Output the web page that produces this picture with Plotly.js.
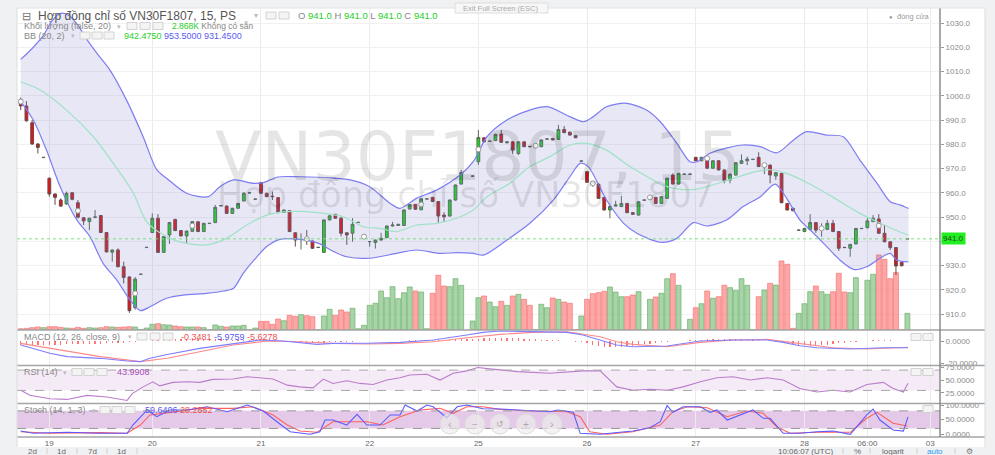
<!DOCTYPE html>
<html><head><meta charset="utf-8">
<script src="https://cdn.plot.ly/plotly-3.0.1.min.js"></script>
<style>html,body{margin:0;padding:0;background:#f0f1f3}#c{width:995px;height:455px}</style>
</head><body><div id="c"></div><script>
// ---------- DATA (15-minute candles, index = bar number) ----------
const open = [998.5,995.8,988.9,980.1,974.5,966,959.5,957,955.4,960,
955.9,949.7,948.1,949.9,950.6,943.6,935.5,936.4,929.5,925.3,
912.6,926.4,937.4,943.6,949.5,935.4,942.6,949,944.4,942.2,
944.1,948,944,947.3,947.7,954.6,954.5,951.5,953.6,956.6,
959.9,957.3,964.2,959.8,958.6,958,951.9,952.6,943.5,940.7,
941,940.1,937.4,935.4,948.8,951.1,949.5,943.5,943.3,947.7,
941.8,939.8,939.5,940.5,941.5,946.3,946.5,946.5,953.3,955.2,
953,957.4,958.1,956.4,950.8,950.4,957,963.6,null,966.8,
972.8,982.7,981.2,981.5,984.2,980.6,981,976.2,981,979.2,
979.3,979,982.1,982.4,982,986.1,985,983.5,973,968.7,
964,963.5,958.1,952.9,954.5,954.3,955.6,951.8,950.8,956.9,
958,958.1,955.6,957.7,967.3,963.6,967.6,967.6,974.6,973.2,
974.6,970.1,973.2,969.4,965.3,967.3,972.1,973.2,973.7,974.6,
971.3,971.4,966.9,968,955.6,953.6,944.5,944,944.9,947.7,
945.2,944.9,947.4,944,937.5,937.1,938.9,945.2,945.6,948.1,
949.2,943.3,939.8,937.4,931.3,941];
const high = [999.3,997.8,990,980.5,974.8,966.3,959.7,957.7,960.5,960.3,
957,949.9,949.7,952.9,950.8,943.8,936.6,937.1,931.6,925.5,
925.2,926.5,937.6,951.5,951.2,942.1,948,949.3,944.6,944.4,
948.3,948.3,947.6,947.5,955,954.8,954.8,953.8,955.8,960.3,
960.1,957.5,964.5,960,960.5,958.2,953.1,952.8,943.7,943.3,
944.6,940.3,937.6,949,950.7,951.3,950,943.7,949.5,947.9,
942,940,940.7,943.5,946.5,948,947.2,953.1,955.4,955.4,
957.8,957.6,958.3,956.6,952,957.2,963.4,969.4,null,967,
985.9,982.9,981.4,984.3,985.9,981.2,981.2,981.2,981.2,979.3,
979.5,982,982.3,982.6,988,987.5,985.2,983.7,973.2,968.9,
964.2,963.7,958.3,954.5,956.7,958.7,955.8,952,956.5,957.1,
958.2,958.3,958.6,966.2,968,968.2,967.8,967.8,974.8,974.8,
974.8,973.4,973.4,969.6,967.9,972.6,975.8,974.9,973.9,976.7,
971.6,971.6,968.5,968.2,955.8,953.8,944.7,945.5,951.2,947.9,
947.4,948.8,948.8,944.2,937.6,938.9,945.5,945.4,949.5,950.8,
951.2,946.7,940,937.6,931.5,941];
const low = [994.1,989.3,979.8,976.2,974.4,958.4,955,954.2,955,956.9,
949.5,946.7,944.6,949.5,943.4,935.4,931.6,929.3,922.6,910.5,
911.8,926.3,937.3,943.4,935.2,935.2,938.9,944.2,942,938.9,
943.9,943.8,943.8,947.2,947.5,954.5,951.3,951.3,953.4,956.4,
959.8,957.2,959.6,958.2,957,951.5,951.7,943.8,937.8,936.6,
938.5,936.9,937.3,935.2,948.6,949.3,942,938.5,939.8,947.6,
941.6,937.8,937,940.3,941.3,946.1,946.3,946.3,953.1,952.9,
952.8,957.3,956.2,947.7,948,950.2,956.8,963.4,null,966.7,
971.5,980.8,981.1,981.3,980.6,980.4,975.9,975.5,978.8,978.8,
979.2,978.8,982,981.6,981.8,984.6,983.6,982.5,972.9,964.1,
962.5,957.5,952.7,949.5,954.3,954.1,951.6,950.9,950.6,956.8,
957.8,955.4,955.4,957.5,963.4,963.4,967.5,967.5,973,973,
969.9,969.9,969.2,963.9,963.9,967.1,971.9,971.4,973.6,970.6,
967.7,963.9,965.3,955.7,952.7,952.4,944.4,943.8,944.7,943.5,
941.9,944.7,943.8,936,937.3,933.6,938.7,945.1,945.3,947.9,
943.1,939.6,936.4,926.1,929.7,941];
const close = [995.8,989.7,980.1,978.7,974.6,959.5,958.1,954.5,959.8,957.3,
949.9,948.4,949.5,950,943.6,935.6,936.4,929.5,925.1,911.4,
924.4,926.4,937.5,949.5,935.4,941.9,947.7,944.4,942.2,944.2,
948.1,944,947.4,947.4,954,954.7,951.5,953.6,955.6,959.8,
960,957.4,959.8,958.4,958.4,951.9,952.9,944,940.5,940.8,
940.9,937.1,937.5,948.8,950.5,949.5,943.3,942.6,947,947.8,
941.9,939.9,940.5,941.2,946.3,946.7,947,952.9,955.2,953.2,
957.5,957.5,956.4,950.4,950.1,957,963.2,968.3,null,966.9,
982.8,981,981.3,984.1,980.8,981,977.6,981,979,979,
979.4,981.8,982.2,981.8,986.1,984.8,983.8,982.7,973.1,964.3,
963.8,957.7,952.9,954.3,955,955.6,951.8,951.1,956.3,957,
958.1,955.6,958.4,966,963.6,968,967.7,967.7,973.2,974.6,
970.1,973.2,969.4,965,967.7,972.4,973.2,973.9,973.8,970.8,
971.4,967.3,968.3,955.9,952.9,952.6,944.6,945.3,947.7,944.6,
945.3,947.4,944,937.1,937.4,938.7,945.3,945.3,948.4,949.5,
943.3,939.8,937.4,929.8,929.9,941];
// volume in thousands
const volume = [0.22,0.29,0.40,0.52,0.40,0.57,0.57,0.46,0.34,0.29,
0.46,0.29,0.40,0.34,0.40,0.57,0.52,0.46,0.52,0.57,
0.52,0.09,0.34,0.98,1.08,0.91,0.86,0.69,0.57,0.52,
0.52,0.52,0.40,0.05,0.86,0.64,0.52,0.69,0.69,0.81,
0.05,0.34,1.49,1.49,0.98,1.89,1.60,2.53,2.35,2.63,
2.46,2.29,0.05,2.41,3.56,2.53,3.44,3.09,3.73,0.22,
0.81,4.24,4.59,6.70,5.55,7.44,5.38,6.41,7.39,6.70,
6.53,0.22,6.31,9.40,7.56,7.44,8.81,7.68,null,1.55,
5.55,5.84,4.81,4.00,4.93,4.24,5.84,6.13,5.27,4.24,
0.05,4.42,3.83,5.50,5.27,4.81,4.59,0.05,2.41,5.27,
6.24,6.41,6.65,7.39,6.53,5.72,5.72,6.01,6.58,0.05,
5.27,5.67,6.31,8.81,9.67,7.68,0.05,1.84,3.83,4.52,
6.70,5.45,5.72,7.68,7.27,6.82,8.81,7.68,0.05,5.72,
6.87,8.02,7.73,11.86,11.29,0.29,2.87,4.52,6.58,7.56,
6.58,6.13,6.58,9.74,6.53,6.41,8.99,0.05,8.54,9.57,
12.89,12.15,8.81,9.85,0.05,2.868];
// Bollinger Bands (20, 2) read at sample bars
const bbUpX = [0,2,4,5.5,7,8.5,10,11.5,13.5,15.6,18.5,21.4,23.8,25.5,29,32.8,34.8,37.2,40.7,42.4,45,48.8,54.1,57.6,61,64.6,66.3,69.2,72.7,76.8,79.1,81.5,85,89,92,96,98.4,100.1,102.4,105.9,109.4,111.8,114.7,117,118.2,120.5,123.5,126.3,129.3,132.2,135.1,137.4,140.9,143.8,146.7,149.7,152,153.7,155.2];
const bbUp = [1015,1019.5,1025,1031,1034,1033,1029,1023.5,1017,1010.6,998.2,983.1,969.4,966,959.8,958.4,962.5,965.3,963.9,964.2,966.5,966.6,966.2,965.3,962.5,955.6,953.6,957.7,961.1,967.3,972.8,983.1,990,994.1,995.5,991.4,989.3,991.4,995.5,996.9,994.1,989.3,980.4,972.8,972.8,976.3,978.5,979.7,979,976.5,981.8,985.2,983.8,983.1,973.5,963.9,956.3,955,953.5];
const bbMidX = [0,3.4,8,12.7,16.2,19.7,22,25.5,29,32.5,36,39.5,43,46.5,50,54,56.4,59.9,62.8,65.7,69.2,72.7,76.2,79.1,81.5,85.5,89,92.5,96,98.9,102.4,106.5,110,111.8,115,118.2,123.4,128.1,131,133.9,138,142.1,146.7,150.2,153.7,155.2];
const bbMid = [1005.8,1002.4,994.1,983.1,972.1,959.8,948.1,941.9,939.1,938.5,941.2,946.7,950.8,952.2,952.2,951.2,950.1,946,945.3,944,946.7,947.4,949.5,952.9,958.4,963.9,970.8,974.9,979.7,980.4,977.6,970.8,966,963.5,961.5,961.5,965,968.5,969.5,968,963.5,958,951.5,947.5,943.8,942.475];
const bbLowX = [0,2.2,4.5,6.9,9.8,12.1,14.4,16.8,19.1,20.9,22.6,25.5,28.4,32.5,35.5,37.2,38.9,41.3,43,45.3,48.8,52.3,54.1,57,61,65.7,69.2,73.3,76.2,79.1,80.9,85,89,93.1,96,97.8,99.2,102.4,105.4,107.7,111.8,114.7,117.6,119.9,123.4,126.3,129.3,131.9,133.9,136.2,138.6,140.9,143.2,145.6,147.9,150.2,152,153.1,155.2];
const bbLow = [997.6,990,977.6,962.5,948.8,941.9,930.9,924,915.8,911.4,913,916.5,917.8,918.5,919.5,920.6,926.8,933.6,937.8,940.8,940.8,938.9,936.5,933.6,933,935,936.4,935,935.3,935,934.3,940.5,947.4,957,966.6,972.1,970.8,957,947.4,943.3,939.6,941.2,947.7,946.3,948.8,954.3,958.4,963.6,957.7,948.8,943.3,937.8,932.3,928.4,929.5,933,935,932.3,931.45];
// markers drawn every 10 bars
const markX = [0,10,20,30,50,60,70,80,90,100,110,120,130,140,150];
const markY = [997.6,952.6,918.5,946.4,940.9,941.9,955.2,977.9,979.4,963.9,958.1,974.2,971.4,945.3,946.4];
// MACD (12, 26, close, 9)
const macdHist = [-3.5,-3.6,-3.8,-3.8,-3.6,-3.5,-3.4,-3.2,-3.0,-2.9,-2.8,-2.7,-2.6,-2.5,-2.4,-2.2,-2.0,-1.8,-1.5,
-1.0,-0.5,0.0,0.4,
0.8,1.1,1.4,1.6,1.8,1.9,2.0,2.0,1.9,1.8,1.7,1.6,1.5,1.3,1.2,1.0,0.9,0.7,0.6,0.4,0.3,0.1,0.0,
-0.3,-0.6,-0.9,-1.2,-1.4,-1.5,-1.6,-1.5,-1.3,
-1.0,-0.8,-0.6,-0.5,-0.3,-0.2,-0.1,0.0,0.1,0.2,0.2,0.3,0.4,0.5,0.6,0.7,
0.8,0.9,1.0,1.1,1.2,1.4,1.6,1.8,1.9,2.2,2.5,2.7,2.8,2.8,2.7,2.6,
2.3,2.0,1.7,1.4,1.1,0.9,0.7,0.5,0.3,
0.0,-0.5,-1.2,
-2.2,-3.2,-4.2,-5.0,-5.5,-5.6,-5.3,-4.8,-4.2,-3.5,
-2.9,-2.3,-1.8,-1.3,-0.8,-0.4,0.0,0.3,
0.7,1.0,1.3,1.5,1.7,1.8,1.8,1.7,1.6,1.4,1.2,
0.9,0.6,0.3,0.0,-0.5,-1.2,
-2.0,-2.8,-3.4,-3.8,-4.0,-3.9,-3.6,-3.2,-2.7,-2.2,
-1.7,-1.2,-0.7,-0.2,0.3,
0.7,1.0,1.0,0.7,0.3,0.0,-0.35];
const macdX = [0,2.2,5.1,8.1,13.9,18.6,20.9,22.6,25.6,31.3,37.1,41.8,45.9,51.8,54.6,60.5,66.3,72.1,78,80.8,83.8,89.6,95.5,98.3,101.3,104.2,107,113,118.8,124.5,130.5,133.3,136.2,139.2,145,150.8,155.1];
const macdLine = [-3.6,-6.6,-11,-14,-15.5,-17.9,-18.5,-15.5,-12,-6.6,-2.1,0.9,0,-3,-2.1,-2,-1.2,0.9,5.4,7.8,9,8.4,7.8,5.4,0.9,-3.6,-5.1,-4.5,0,0.9,0.9,-1.2,-4.2,-6,-7.2,-6,-5.98];
const sigX = [0,5.1,13.9,20.9,25.6,31.3,37.1,43.1,48.8,54.6,60.5,66.3,72.1,78,83.8,89.6,95.5,101.3,104.2,107,113,118.8,124.5,130.5,136.2,142,147.9,155.1];
const sigLine = [-2.1,-6.6,-14,-18.5,-15.5,-9.6,-3.6,0,-0.6,-2.1,-2.7,-2.1,-0.6,3,6,7.8,8.4,3.9,-0.6,-3,-5.1,-1.2,0.9,1.5,-2.1,-6,-7.2,-5.63];
// RSI (14)
const rsiX = [0,1.6,5.1,8.1,11.6,15.1,18.6,19.5,21.4,23.1,24.3,26.6,29.1,31.3,33.6,37.1,39.6,41.8,44.1,46.6,48.8,51.1,52.9,54.6,57,59.3,61.6,64,66.3,68,71,73.3,75.6,78,79.9,82,83.8,86.8,92.5,98.3,101.3,104.2,107,110,113,115.8,118.8,121.7,124.5,127.5,130.5,133.3,136.2,139.2,142,145,147.9,150.8,152.5,154.3,155.1];
const rsi = [30.4,20.4,13.8,12.4,20.4,17,10.4,23.8,37,47,39,45.8,47,45.8,51.8,52.4,57,55,52.4,40.4,37,35,52.4,43.8,49,43.8,41.8,50.4,55,60.4,61.8,50.4,63.8,68.4,75,72.4,70.4,67,63.8,68.4,68.4,37,30.4,32.4,30.4,37,47,55,57,50.4,55,50.4,33.8,27,30.4,27,41.8,45.8,33.8,27,43.99];
// Stoch (14, 1, 3)
const kX = [0,2.2,8.1,13.9,18.6,19.6,22.1,23.8,26.1,29.1,32.6,36.1,39.6,42.4,44.8,47.1,50.6,52.3,53.2,54.6,57,58.8,60.5,62.8,64.6,66.3,67.2,69.3,71,72.1,74.5,76.3,78,80.8,83.8,86.8,92.5,93.9,96.6,97.8,101.3,103,107,110,111.8,113,114,115.8,118.8,120.5,121.7,123.5,125.8,128,129.8,131,133.3,136.2,139.2,142,145,146.4,147.9,149,150.2,152.5,154.3,155.1];
const stochK = [11,3.4,6.8,3.4,3.4,31.7,83,60,83,83,94,77,100,79.5,43,8.9,0,8.9,48.8,48.8,31.7,68,31.7,31.7,66,66,100,79.5,100,94,56.7,94,100,87.4,86.4,83,77,83,75,3.4,0,3.4,11,22.5,43,98,75,94,94,75,83,48.8,66,83,54.6,54.6,3.4,3.4,8.9,11,0,31.7,66,86.4,48.8,14.5,11,59.64];
const dX = [0,5.1,13.9,18.6,20.9,22.6,24.9,27.8,31.3,37.1,40.6,44.1,46.6,48.8,51.8,54.6,57.6,60.5,63.3,66.3,69.8,73.3,75.6,78,80.8,83.8,89.6,95.5,97.8,99.5,102.5,107,111.8,114,116.5,120,123.5,126.9,129.8,132.2,134.5,139.2,145,147.9,149.7,152.5,155];
const stochD = [8.9,3.4,5.6,3.4,31.7,66,71.6,79.5,88.6,88.6,94,66,31.7,11,6.8,43,43,43,31.7,60,83,88.6,71.6,94,94,85,79.5,77,60,8.9,0,8.9,31.7,77,94,90.5,60,79.5,71.6,25,3.4,6.8,6.8,54.6,75,37.5,28.26];
// axis labels
const dayTickPos = [5,23,42,61,80,99,118,137,148,159];
const dayTickLab = ['19','20','21','22','25','26','27','28','06:00','03'];
const priceTicks = [910,920,930,940,950,960,970,980,990,1000,1010,1020,1030];
const lastPrice = 941.0;

// ---------- BUILD ----------
const FONT = 'Liberation Sans, Arial, sans-serif';
const N = close.length;
const xi = []; for (let i = 0; i < N; i++) xi.push(i);
const volColors = [], volLines = [];
for (let i = 0; i < N; i++) {
  const up = close[i] !== null && close[i] >= open[i];
  volColors.push(up ? 'rgba(120,190,120,0.65)' : 'rgba(255,120,120,0.65)');
  volLines.push(up ? 'rgba(100,170,100,0.8)' : 'rgba(240,110,110,0.8)');
}
const P = x => (x - 17) / 923;
const Q = y => (437 - y) / 429;

const traces = [
  {type:'bar', x:xi, y:volume, yaxis:'y', xaxis:'x', width:0.86,
   marker:{color:volColors, line:{color:volLines, width:0.8}}, hoverinfo:'skip'},
  {type:'scatter', mode:'lines', x:bbUpX, y:bbUp, yaxis:'y2', line:{color:'#7d7df2', width:1.2, shape:'spline', smoothing:0.8}, hoverinfo:'skip'},
  {type:'scatter', mode:'lines', x:bbLowX, y:bbLow, yaxis:'y2', fill:'tonexty', fillcolor:'rgba(128,128,200,0.19)', line:{color:'#7d7df2', width:1.2, shape:'spline', smoothing:0.8}, hoverinfo:'skip'},
  {type:'scatter', mode:'lines', x:bbMidX, y:bbMid, yaxis:'y2', line:{color:'#9fe2c6', width:1.2, shape:'spline', smoothing:0.8}, hoverinfo:'skip'},
  {type:'candlestick', x:xi, open:open, high:high, low:low, close:close, yaxis:'y2', whiskerwidth:0,
   increasing:{line:{color:'#5a6a5a', width:1}, fillcolor:'#10e010'},
   decreasing:{line:{color:'#6a4a4a', width:1}, fillcolor:'#e81010'}, hoverinfo:'skip'},
  {type:'scatter', mode:'markers', x:markX, y:markY, yaxis:'y2', marker:{symbol:'circle', size:5, color:'#ffffff', line:{color:'#9a9a9a', width:1}}, hoverinfo:'skip'},
  {type:'bar', x:xi, y:macdHist, yaxis:'y3', width:0.22, marker:{color:'rgba(255,90,90,0.85)'}, hoverinfo:'skip'},
  {type:'scatter', mode:'lines', x:sigX, y:sigLine, yaxis:'y3', line:{color:'#ff8a8a', width:1.1}, hoverinfo:'skip'},
  {type:'scatter', mode:'lines', x:macdX, y:macdLine, yaxis:'y3', line:{color:'#7f7fff', width:1.1}, hoverinfo:'skip'},
  {type:'scatter', mode:'lines', x:rsiX, y:rsi, yaxis:'y4', line:{color:'#bb7ccc', width:1.1}, hoverinfo:'skip'},
  {type:'scatter', mode:'lines', x:dX, y:stochD, yaxis:'y5', line:{color:'#ff6060', width:1.1}, hoverinfo:'skip'},
  {type:'scatter', mode:'lines', x:kX, y:stochK, yaxis:'y5', line:{color:'#5b5bff', width:1.1}, hoverinfo:'skip'}
];

const axFont = {size:8, color:'#8a8a8a', family:FONT};
const yCommon = {side:'right', anchor:'x', showgrid:false, zeroline:false, ticks:'outside', ticklen:3, tickcolor:'#999', tickfont:axFont, fixedrange:true, showline:false};

const shapes = [];
shapes.push({type:'rect', xref:'paper', yref:'paper', x0:P(17), x1:P(985), y0:Q(447), y1:Q(8), fillcolor:'#ffffff', line:{width:0}, layer:'below'});
shapes.push({type:'rect', xref:'paper', yref:'y4', x0:0, x1:1, y0:30, y1:70, fillcolor:'rgba(170,90,190,0.12)', line:{width:0}, layer:'below'});
shapes.push({type:'line', xref:'paper', yref:'y4', x0:0, x1:1, y0:70, y1:70, line:{color:'#aaaaaa', width:1, dash:'dash'}});
shapes.push({type:'line', xref:'paper', yref:'y4', x0:0, x1:1, y0:30, y1:30, line:{color:'#aaaaaa', width:1, dash:'dash'}});
shapes.push({type:'rect', xref:'paper', yref:'y5', x0:0, x1:1, y0:20, y1:80, fillcolor:'rgba(165,80,180,0.30)', line:{width:0}, layer:'below'});
shapes.push({type:'line', xref:'paper', yref:'y5', x0:0, x1:1, y0:80, y1:80, line:{color:'#999999', width:1, dash:'dash'}});
shapes.push({type:'line', xref:'paper', yref:'y5', x0:0, x1:1, y0:20, y1:20, line:{color:'#999999', width:1, dash:'dash'}});
shapes.push({type:'line', xref:'paper', yref:'y2', x0:0, x1:1, y0:lastPrice, y1:lastPrice, line:{color:'#7ee07e', width:1, dash:'dot'}});
[330, 365.5, 403.5, 437].forEach(y => shapes.push({type:'line', xref:'paper', yref:'paper', x0:P(17), x1:P(985), y0:Q(y), y1:Q(y), line:{color:'#a4a4a4', width:1.3}}));
shapes.push({type:'line', xref:'paper', yref:'paper', x0:P(940), x1:P(940), y0:Q(437), y1:Q(8), line:{color:'#7a7a7a', width:1.3}});
shapes.push({type:'line', xref:'paper', yref:'paper', x0:P(985), x1:P(985), y0:Q(447), y1:Q(8), line:{color:'#dddddd', width:1}});
shapes.push({type:'line', xref:'paper', yref:'paper', x0:P(17), x1:P(17), y0:Q(447), y1:Q(8), line:{color:'#dddddd', width:1}});
shapes.push({type:'line', xref:'paper', yref:'paper', x0:P(17), x1:P(985), y0:Q(8), y1:Q(8), line:{color:'#e2e2e2', width:1}});
function icon(x, y) {
  shapes.push({type:'rect', xref:'paper', yref:'paper', x0:P(x), x1:P(x+10), y0:Q(y+3.5), y1:Q(y-3.5), fillcolor:'#f4f4f4', line:{color:'#d2d2d2', width:1}});
}
[266,279].forEach(x => icon(x, 15.5));
[127,140,153].forEach(x => icon(x, 26));
[80,92,104].forEach(x => icon(x, 35.5));
[137,150,163].forEach(x => icon(x, 336.5));
[72,84,97].forEach(x => icon(x, 372));
[100,112,125].forEach(x => icon(x, 410));
[911,923].forEach(x => icon(x, 337));
[911,923].forEach(x => icon(x, 372));
icon(923, 409);
[450,475,500,526,552].forEach(cx => shapes.push({type:'circle', xref:'paper', yref:'paper', x0:P(cx-10), x1:P(cx+10), y0:Q(434), y1:Q(414), fillcolor:'rgba(236,236,236,0.65)', line:{color:'#dcdcdc', width:1}}));
[47,77,107,137,843,870,917,955].forEach(x => shapes.push({type:'line', xref:'paper', yref:'paper', x0:P(x), x1:P(x), y0:Q(454), y1:Q(448), line:{color:'#d0d0d0', width:1}}));
shapes.push({type:'rect', xref:'paper', yref:'paper', x0:P(455), x1:P(548), y0:Q(13), y1:Q(3), fillcolor:'#f7f7f7', line:{color:'#dddddd', width:1}});

function ann(x, y, text, size, color, extra) {
  return Object.assign({xref:'paper', yref:'paper', x:P(x), y:Q(y), text:text, showarrow:false, xanchor:'left', yanchor:'middle',
    font:{size:size, color:color, family:FONT}}, extra || {});
}
const G = '#1fcf1f', B = '#5a5af0', R = '#f05050';
const annotations = [
  {xref:'paper', yref:'paper', x:P(478), y:Q(156), text:'VN30F1807, 15', showarrow:false, xanchor:'center', yanchor:'middle', font:{size:68, color:'rgba(0,0,0,0.10)', family:'DejaVu Sans, sans-serif'}},
  {xref:'paper', yref:'paper', x:P(465), y:Q(195), text:'Hợp đồng chỉ số VN30F1807', showarrow:false, xanchor:'center', yanchor:'middle', font:{size:35, color:'rgba(0,0,0,0.10)', family:'DejaVu Sans, sans-serif'}},
  ann(20, 15.5, '⊟', 11, '#777'),
  ann(36, 15.5, 'Hợp đồng chỉ số VN30F1807, 15, PS', 12, '#555'),
  ann(252, 15.5, '▾', 8, '#bbb'),
  ann(296, 15.5, 'O <span style="color:'+G+'">941.0</span> H <span style="color:'+G+'">941.0</span> L <span style="color:'+G+'">941.0</span> C <span style="color:'+G+'">941.0</span>', 9.5, '#888'),
  ann(22, 26, 'Khối lượng (false, 20)', 9, '#888'),
  ann(115, 26, '▾', 7, '#bbb'),
  ann(170, 26, '<span style="color:'+G+'">2.868K</span> Không có sẵn', 8.5, '#888'),
  ann(22, 35.5, 'BB (20, 2)', 9, '#888'),
  ann(69, 35.5, '▾', 7, '#bbb'),
  ann(122, 35.5, '<span style="color:'+G+'">942.4750</span> <span style="color:'+B+'">953.5000 931.4500</span>', 9, '#888'),
  ann(501, 8.5, 'Exit Full Screen (ESC)', 7.5, '#aaa', {xanchor:'center'}),
  ann(887, 16.5, '●', 6, '#999'),
  ann(895, 16.5, 'đóng cửa', 7.5, '#999'),
  ann(22, 336.5, 'MACD (12, 26, close, 9)', 9, '#888'),
  ann(126, 336.5, '▾', 7, '#bbb'),
  ann(179, 336.5, '<span style="color:'+R+'">-0.3481</span> <span style="color:'+B+'">-5.9759</span> <span style="color:'+R+'">-5.6278</span>', 9, '#888'),
  ann(22, 372, 'RSI (14)', 9, '#888'),
  ann(61, 372, '▾', 7, '#bbb'),
  ann(115, 372, '43.9908', 9, '#a64cb5'),
  ann(22, 410, 'Stoch (14, 1, 3)', 9, '#888'),
  ann(90, 410, '▾', 7, '#bbb'),
  ann(143, 410, '<span style="color:'+B+'">59.6406</span> <span style="color:'+R+'">28.2552</span>', 9, '#888'),
  ann(450, 424, '‹', 11, '#aaa', {xanchor:'center'}),
  ann(475, 424, '−', 10, '#aaa', {xanchor:'center'}),
  ann(500, 424, '↺', 9, '#aaa', {xanchor:'center'}),
  ann(526, 424, '+', 10, '#aaa', {xanchor:'center'}),
  ann(552, 424, '›', 11, '#aaa', {xanchor:'center'}),
  ann(32, 451.5, '2d', 8, '#666', {xanchor:'center'}),
  ann(61, 451.5, '1d', 8, '#666', {xanchor:'center'}),
  ann(92, 451.5, '7d', 8, '#666', {xanchor:'center'}),
  ann(121, 451.5, '1d', 8, '#666', {xanchor:'center'}),
  ann(805, 451.5, '10:06:07 (UTC)', 8, '#666', {xanchor:'center'}),
  ann(857, 451.5, '%', 8, '#666', {xanchor:'center'}),
  ann(893, 451.5, 'logarit', 8, '#666', {xanchor:'center'}),
  ann(935, 451.5, 'auto', 8, '#2a9df4', {xanchor:'center'}),
  {xref:'paper', yref:'paper', x:P(969), y:Q(451), text:'⚙', showarrow:false, xanchor:'center', yanchor:'middle', font:{size:8, color:'#777', family:'DejaVu Sans, sans-serif'}},
  {xref:'paper', yref:'y2', x:P(941), y:lastPrice, text:'941.0', showarrow:false, xanchor:'left', yanchor:'middle', bgcolor:'#22ee22', borderpad:1, font:{size:8, color:'#1b4d1b', family:FONT}}
];

const layout = {
  width:995, height:455,
  margin:{l:17, r:55, t:8, b:18},
  paper_bgcolor:'#f0f1f3', plot_bgcolor:'#ffffff',
  showlegend:false, hovermode:false, dragmode:false,
  font:{family:FONT, size:8, color:'#888'},
  bargap:0,
  xaxis:{range:[-0.65,160.7], anchor:'y5', tickmode:'array', tickvals:dayTickPos, ticktext:dayTickLab,
    showgrid:true, gridcolor:'#ebebeb', gridwidth:1, zeroline:false, ticks:'', tickfont:{size:8, color:'#666', family:FONT},
    rangeslider:{visible:false}, fixedrange:true, showline:false},
  yaxis:{domain:[0.2494,1], range:[0,55.3], visible:false, fixedrange:true},
  yaxis2:Object.assign({}, yCommon, {overlaying:'y', range:[903.4,1036.2], tickmode:'array', tickvals:priceTicks,
    ticktext:priceTicks.map(v => v === 940 ? '' : v.toFixed(1)), showgrid:true, gridcolor:'#f1f1f1'}),
  yaxis3:Object.assign({}, yCommon, {domain:[0.1678,0.2494], range:[-21.5,9.9], tickmode:'array', tickvals:[0,-20], ticktext:['0.0000','-20.0000']}),
  yaxis4:Object.assign({}, yCommon, {domain:[0.0781,0.1667], range:[4.4,79], tickmode:'array', tickvals:[75,50,25], ticktext:['75.0000','50.0000','25.0000']}),
  yaxis5:Object.assign({}, yCommon, {domain:[0,0.0769], range:[-9.2,103.4], tickmode:'array', tickvals:[100,50,0], ticktext:['100.0000','50.0000','0.0000']}),
  shapes:shapes,
  annotations:annotations
};
Plotly.newPlot('c', traces, layout, {displayModeBar:false, staticPlot:true});
</script></body></html>
